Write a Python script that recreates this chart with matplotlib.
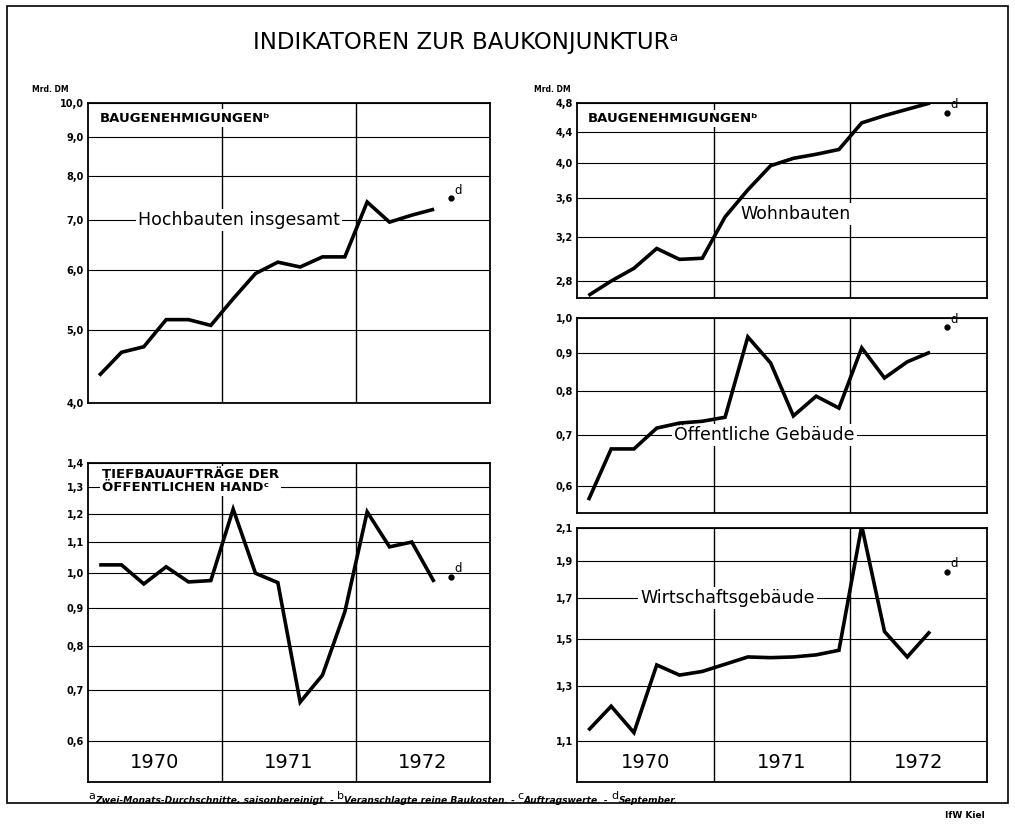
import numpy as np
import matplotlib
matplotlib.use("Agg")
import matplotlib.pyplot as plt
import matplotlib.ticker as mticker
import matplotlib.transforms as mtransforms
from matplotlib.patches import Rectangle

# ── data: two-month averages, Jan/Feb 1970 … Jul/Aug 1972 (Mrd. DM) ─────────

hochbauten = [4.35, 4.67, 4.75, 5.16, 5.16, 5.07, 5.50, 5.94,
              6.15, 6.06, 6.25, 6.25, 7.39, 6.95, 7.10, 7.23]
tiefbau = [1.026, 1.026, 0.968, 1.020, 0.974, 0.978, 1.216, 1.000,
           0.972, 0.675, 0.733, 0.889, 1.206, 1.084, 1.100, 0.974]
wohnbauten = [2.68, 2.80, 2.91, 3.09, 2.99, 3.00, 3.40, 3.69,
              3.97, 4.06, 4.11, 4.17, 4.52, 4.62, 4.71, 4.80]
oeffentliche = [0.574, 0.671, 0.671, 0.715, 0.726, 0.730, 0.739, 0.944,
                0.872, 0.742, 0.788, 0.760, 0.913, 0.833, 0.875, 0.901]
wirtschaft = [1.138, 1.224, 1.130, 1.387, 1.345, 1.360, 1.390, 1.421,
              1.418, 1.421, 1.430, 1.450, 2.113, 1.535, 1.421, 1.535]

# single month September 1972 (footnote d)
hochbauten_sep = 7.48
tiefbau_sep = 0.99
wohnbauten_sep = 4.66
oeffentliche_sep = 0.973
wirtschaft_sep = 1.84

years = [1970, 1971, 1972]
periods = np.arange(16)
t = 1970 + (2 * periods + 1) / 12.0     # middle of each two-month period
t_sep = 1972 + 8.5 / 12.0

ticks_hoch = [4.0, 5.0, 6.0, 7.0, 8.0, 9.0, 10.0]
ticks_tief = [0.6, 0.7, 0.8, 0.9, 1.0, 1.1, 1.2, 1.3, 1.4]
ticks_wohn = [2.8, 3.2, 3.6, 4.0, 4.4, 4.8]
ticks_oeff = [0.6, 0.7, 0.8, 0.9, 1.0]
ticks_wirt = [1.1, 1.3, 1.5, 1.7, 1.9, 2.1]

W, H = 1015, 831
FS_LABEL = 12.5


def px(x0, y0, x1, y1):
    """pixel box (top-left origin) -> figure fraction rect"""
    return [x0 / W, 1 - y1 / H, (x1 - x0) / W, (y1 - y0) / H]


def panel(rect, ylim, ticks, values, sep_value, year_band=False):
    ax = fig.add_axes(rect)
    ax.set_yscale("log")
    ax.set_xlim(1970, 1973)
    ax.set_ylim(*ylim)
    ax.yaxis.set_major_locator(mticker.FixedLocator(ticks))
    ax.yaxis.set_minor_locator(mticker.NullLocator())
    ax.yaxis.set_major_formatter(mticker.FixedFormatter(
        [f"{v:.1f}".replace(".", ",") for v in ticks]))
    ax.set_xticks([])
    ax.tick_params(axis="y", length=0, pad=3, labelsize=7)
    for lab in ax.get_yticklabels():
        lab.set_fontweight("bold")
    for v in ticks:
        ax.axhline(v, color="black", lw=0.8, zorder=1)
    for yr in years[1:]:
        ax.axvline(yr, color="black", lw=1.0, zorder=1)
    for s in ax.spines.values():
        s.set_linewidth(1.3)
    ax.plot(t, values, color="black", lw=2.6, solid_joinstyle="miter",
            solid_capstyle="butt", zorder=4)
    ax.plot([t_sep], [sep_value], "o", color="black", ms=3.5, zorder=4)
    ax.annotate("d", (t_sep, sep_value), xytext=(2.5, 1),
                textcoords="offset points", fontsize=8.5, va="bottom")
    if year_band:
        tr = mtransforms.blended_transform_factory(ax.transData, ax.transAxes)
        bottom_pos = (np.log10(ticks[0]) - np.log10(ylim[0])) / \
                     (np.log10(ylim[1]) - np.log10(ylim[0]))
        for yr in years:
            ax.text(yr + 0.5, bottom_pos * 0.48, str(yr), transform=tr,
                    ha="center", va="center", fontsize=14)
    return ax


white = dict(facecolor="white", edgecolor="none", pad=1.5)

fig = plt.figure(figsize=(W / 100, H / 100), dpi=100)

# ── panels ───────────────────────────────────────────────────────────────────

ax1 = panel(px(88, 103, 490, 403), (4.0, 10.0), ticks_hoch, hochbauten,
            hochbauten_sep)
ax1.text(0.03, 0.95, "BAUGENEHMIGUNGENᵇ", transform=ax1.transAxes,
         fontsize=9.5, fontweight="bold", va="center", bbox=white, zorder=5)
ax1.text(1971.13, 7.0, "Hochbauten insgesamt", ha="center", va="center",
         fontsize=FS_LABEL, bbox=white, zorder=3)

ax2 = panel(px(88, 463, 490, 782), (0.529, 1.4), ticks_tief, tiefbau,
            tiefbau_sep, year_band=True)
ax2.text(0.035, 0.985, "TIEFBAUAUFTRÄGE DER\nÖFFENTLICHEN HANDᶜ",
         transform=ax2.transAxes, fontsize=9.5, fontweight="bold",
         va="top", linespacing=1.05, bbox=white, zorder=5)

ax3 = panel(px(577, 103, 987, 298), (2.66, 4.8), ticks_wohn, wohnbauten,
            wohnbauten_sep)
ax3.text(0.027, 0.92, "BAUGENEHMIGUNGENᵇ", transform=ax3.transAxes,
         fontsize=9.5, fontweight="bold", va="center", bbox=white, zorder=5)
ax3.text(1971.6, 3.43, "Wohnbauten", ha="center", va="center",
         fontsize=FS_LABEL, bbox=white, zorder=3)

ax4 = panel(px(577, 318, 987, 513), (0.552, 1.0), ticks_oeff, oeffentliche,
            oeffentliche_sep)
ax4.text(1971.37, 0.70, "Öffentliche Gebäude", ha="center", va="center",
         fontsize=FS_LABEL, bbox=white, zorder=3)

ax5 = panel(px(577, 528, 987, 782), (0.973, 2.1), ticks_wirt, wirtschaft,
            wirtschaft_sep, year_band=True)
ax5.text(1971.10, 1.7, "Wirtschaftsgebäude", ha="center", va="center",
         fontsize=FS_LABEL, bbox=white, zorder=3)

# ── titles, units, footnotes ─────────────────────────────────────────────────

fig.text(466 / W, 1 - 43 / H, "INDIKATOREN ZUR BAUKONJUNKTURᵃ",
         ha="center", va="center", fontsize=16.5)
fig.text(50 / W, 1 - 89 / H, "Mrd. DM", ha="center", va="center",
         fontsize=5.5, fontweight="bold")
fig.text(552 / W, 1 - 89 / H, "Mrd. DM", ha="center", va="center",
         fontsize=5.5, fontweight="bold")
fig.text(985 / W, 1 - 816 / H, "IfW Kiel", ha="right", va="center",
         fontsize=6.5, fontweight="bold")

ov = fig.add_axes([0, 0, 1, 1])
ov.set_axis_off()
ov.set_zorder(-1)
notes = [("a", "Zwei-Monats-Durchschnitte, saisonbereinigt. - "),
         ("b", "Veranschlagte reine Baukosten. - "),
         ("c", "Auftragswerte. - "),
         ("d", "September.")]
prev = None
for sup, body in notes:
    if prev is None:
        prev = ov.text(88 / W, 1 - 801 / H, sup, transform=fig.transFigure,
                       fontsize=8, va="bottom", ha="left")
    else:
        prev = ov.annotate(sup, xy=(1, 0), xycoords=prev, xytext=(0, 3),
                           textcoords="offset points", fontsize=8,
                           va="bottom", ha="left")
    prev = ov.annotate(body, xy=(1, 0), xycoords=prev, xytext=(0, -3),
                       textcoords="offset points", fontsize=6.6,
                       fontweight="bold", fontstyle="italic",
                       va="bottom", ha="left")

# outer frame
fig.patches.append(Rectangle((7 / W, 1 - 803 / H), 1001 / W, 797 / H,
                             transform=fig.transFigure, fill=False,
                             edgecolor="black", lw=1.2))

fig.savefig("out.png", dpi=100)
